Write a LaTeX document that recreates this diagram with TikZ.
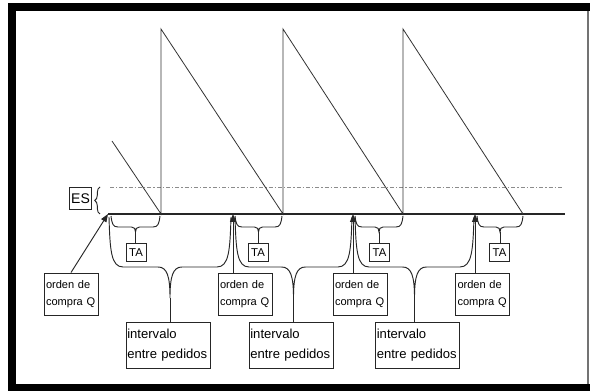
\documentclass[tikz,border=0pt]{standalone}
\usepackage{fontspec}
\setmainfont{Liberation Sans}
\usetikzlibrary{arrows.meta,decorations.pathreplacing}

% curly brace below the time axis, tip pointing down (#1 left x, #2 right x, #3 tip name)
\newcommand{\tabrace}[3]{%
  \pgfmathsetmacro\bxm{(#1+#2)/2}
  \draw[brc] (#1,216) .. controls (#1+1,224) and (#1+2,227) .. (#1+7,227)
    -- (\bxm-4,227) .. controls (\bxm-1,227) and (\bxm,229) .. (\bxm,232) coordinate (#3)
    .. controls (\bxm,229) and (\bxm+1,227) .. (\bxm+4,227)
    -- (#2-7,227) .. controls (#2-2,227) and (#2-1,224) .. (#2,216);
}
% long brace spanning one reorder interval
\newcommand{\intbrace}[3]{%
  \pgfmathsetmacro\bxm{(#1+#2)/2}
  \draw[brc] (#1,217) .. controls (#1+1,250) and (#1+2,267) .. (#1+14,267)
    -- (\bxm-12,267) .. controls (\bxm-3,267) and (\bxm,276) .. (\bxm,298) coordinate (#3)
    .. controls (\bxm,276) and (\bxm+3,267) .. (\bxm+12,267)
    -- (#2-14,267) .. controls (#2-2,267) and (#2-1,250) .. (#2,217);
}

\begin{document}
\begin{tikzpicture}[x=0.75pt,y=-0.75pt,
  saw/.style={line width=0.6pt,black!80},
  axis/.style={line width=0.9pt,black!85},
  brc/.style={line width=0.7pt,black!85},
  arr/.style={line width=0.7pt,black!85,-{Triangle[length=6pt,width=4.5pt]}},
  lbl/.style={draw,line width=0.7pt,black!85,text=black,inner sep=1.5pt},
  ordbox/.style={lbl,minimum width=40.5pt,minimum height=31.5pt,text width=37.5pt,
    align=left,font=\fontsize{8.3}{13}\selectfont},
  intbox/.style={lbl,minimum width=63pt,minimum height=34.5pt,inner sep=1pt,
    text width=61pt,align=left,font=\fontsize{9.8}{15.5}\selectfont},
  tabox/.style={lbl,minimum width=15pt,minimum height=14pt,inner sep=0.5pt,
    font=\fontsize{8.5}{10}\selectfont},
  esbox/.style={lbl,minimum width=17pt,minimum height=16pt,inner sep=0.5pt,
    font=\fontsize{10.5}{12}\selectfont}]

\useasboundingbox (0,0) rectangle (590,391);
\fill[white] (0,0) rectangle (590,391);

% frame
\fill[black] (8,3) rectangle (590,11);
\fill[black] (8,3) rectangle (16,391);
\fill[black] (8,384) rectangle (590,391);
\draw[line width=0.9pt,black!55] (588,11) -- (588,384);

% safety stock level
\draw[line width=0.6pt,black!45,dash pattern=on 3pt off 1.5pt on 1pt off 1.5pt] (110,187) -- (563,187);

% time axis and order / receipt points
\coordinate (o1) at (108,214);
\coordinate (o2) at (233,214);
\coordinate (o3) at (353,214);
\coordinate (o4) at (475,214);
\coordinate (r1) at (161,214);
\coordinate (r2) at (283,214);
\coordinate (r3) at (403,214);
\coordinate (r4) at (523,214);
\coordinate (p1) at (161,29);
\coordinate (p2) at (283,29);
\coordinate (p3) at (403,29);
\coordinate (s0) at (112,141);

\draw[axis] (o1) -- (565,214);

% inventory sawtooth
\draw[saw] (s0) -- (r1) -- (p1) -- (r2) -- (p2) -- (r3) -- (p3) -- (r4);

% safety stock label
\node[esbox] (es) at (80.5,198.5) {ES};
\draw[brc,decorate,decoration={brace,amplitude=4pt}] (100,214) -- (100,187);

% lead time braces
\tabrace{111}{160}{t1}
\tabrace{235}{282}{t2}
\tabrace{355}{403}{t3}
\tabrace{477}{523}{t4}
\node[tabox] (ta1) at (136,252.5) {TA};
\node[tabox] (ta2) at (258,252.5) {TA};
\node[tabox] (ta3) at (379.5,252.5) {TA};
\node[tabox] (ta4) at (499.5,252.5) {TA};
\draw[brc] (t1) -- (t1 |- ta1.north);
\draw[brc] (t2) -- (t2 |- ta2.north);
\draw[brc] (t3) -- (t3 |- ta3.north);
\draw[brc] (t4) -- (t4 |- ta4.north);

% reorder interval braces
\intbrace{109}{231}{i1}
\intbrace{235}{352}{i2}
\intbrace{355}{474}{i3}
\node[intbox] (iv1) at (168,345) {intervalo\\entre pedidos};
\node[intbox] (iv2) at (291,345) {intervalo\\entre pedidos};
\node[intbox] (iv3) at (417.5,345) {intervalo\\entre pedidos};
\draw[brc] (i1) -- (i1 |- iv1.north);
\draw[brc] (i2) -- (i2 |- iv2.north);
\draw[brc] (i3) -- (i3 |- iv3.north);

% purchase orders
\node[ordbox] (q1) at (71,294) {orden de\\compra Q};
\node[ordbox] (q2) at (245,294) {orden de\\compra Q};
\node[ordbox] (q3) at (360,294) {orden de\\compra Q};
\node[ordbox] (q4) at (482.5,294) {orden de\\compra Q};
\draw[arr] (q1.north) -- (o1);
\draw[arr] (q2.north -| o2) -- (o2);
\draw[arr] (q3.north -| o3) -- (o3);
\draw[arr] (q4.north -| o4) -- (o4);

\end{tikzpicture}
\end{document}
